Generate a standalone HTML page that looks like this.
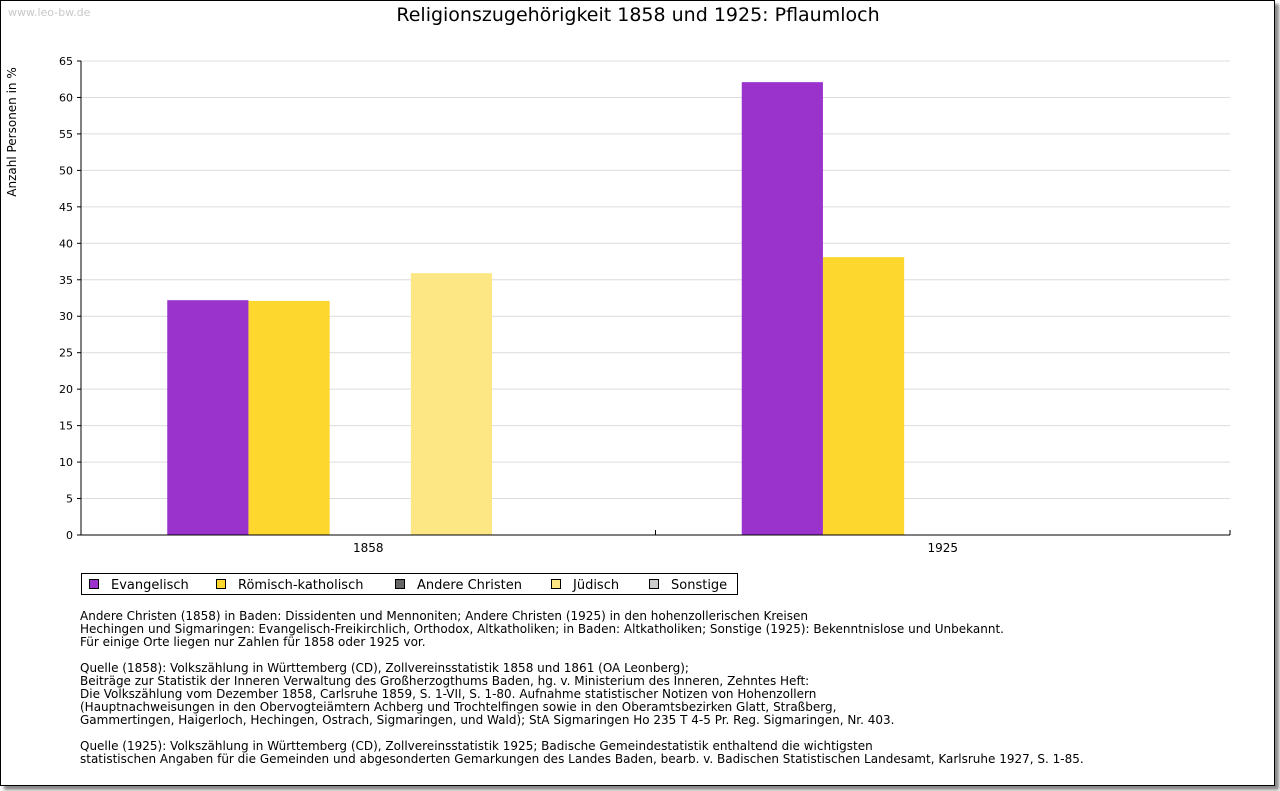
<!DOCTYPE html>
<html><head><meta charset="utf-8"><style>
body{margin:0;background:#fff;width:1280px;height:791px;overflow:hidden;font-family:"DejaVu Sans","Liberation Sans",sans-serif;}
#frame{position:absolute;left:0;top:0;width:1273px;height:784px;border:1px solid #000;box-shadow:4px 4px 3px #888;background:#fff;}
.note{position:absolute;left:80px;font-size:12px;line-height:13px;color:#000;white-space:nowrap;letter-spacing:0px;}
</style></head><body>
<div id="frame"></div>
<svg width="1280" height="791" style="position:absolute;left:0;top:0" font-family="DejaVu Sans, Liberation Sans, sans-serif">
<text x="8" y="16" font-size="11" fill="#c8c8c8">www.leo-bw.de</text>
<text x="638" y="21" font-size="19" text-anchor="middle">Religionszugehörigkeit 1858 und 1925: Pflaumloch</text>
<text transform="translate(16,132) rotate(-90)" font-size="12" text-anchor="middle">Anzahl Personen in %</text>
<g id="grid"></g><g id="bars"></g><g id="axes"></g>
<g id="legend"></g>
</svg>
<div class="note" style="top:610px">Andere Christen (1858) in Baden: Dissidenten und Mennoniten; Andere Christen (1925) in den hohenzollerischen Kreisen<br>Hechingen und Sigmaringen: Evangelisch-Freikirchlich, Orthodox, Altkatholiken; in Baden: Altkatholiken; Sonstige (1925): Bekenntnislose und Unbekannt.<br>Für einige Orte liegen nur Zahlen für 1858 oder 1925 vor.</div>
<div class="note" style="top:662px">Quelle (1858): Volkszählung in Württemberg (CD), Zollvereinsstatistik 1858 und 1861 (OA Leonberg);<br>Beiträge zur Statistik der Inneren Verwaltung des Großherzogthums Baden, hg. v. Ministerium des Inneren, Zehntes Heft:<br>Die Volkszählung vom Dezember 1858, Carlsruhe 1859, S. 1-VII, S. 1-80. Aufnahme statistischer Notizen von Hohenzollern<br>(Hauptnachweisungen in den Obervogteiämtern Achberg und Trochtelfingen sowie in den Oberamtsbezirken Glatt, Straßberg,<br>Gammertingen, Haigerloch, Hechingen, Ostrach, Sigmaringen, und Wald); StA Sigmaringen Ho 235 T 4-5 Pr. Reg. Sigmaringen, Nr. 403.</div>
<div class="note" style="top:740px">Quelle (1925): Volkszählung in Württemberg (CD), Zollvereinsstatistik 1925; Badische Gemeindestatistik enthaltend die wichtigsten<br>statistischen Angaben für die Gemeinden und abgesonderten Gemarkungen des Landes Baden, bearb. v. Badischen Statistischen Landesamt, Karlsruhe 1927, S. 1-85.</div>
<script>
const categories=["1858","1925"];
const seriesNames=["Evangelisch","Römisch-katholisch","Andere Christen","Jüdisch","Sonstige"];
const colors=["#9933cc","#fdd62e","#666666","#fde784","#cccccc"];
const evangelisch=[32.2,62.1];
const katholisch=[32.1,38.1];
const andere=[0,0];
const juedisch=[35.9,0];
const sonstige=[0,0];
const yTicks=[0,5,10,15,20,25,30,35,40,45,50,55,60,65];
const series=[evangelisch,katholisch,andere,juedisch,sonstige];
const NS="http://www.w3.org/2000/svg";
const X0=81,X1=1230,Y0=535,Y1=61,YMAX=65;
const y=v=>Y0-(v/YMAX)*(Y0-Y1);
const gw=(X1-X0)/categories.length, bw=81.2;
const gx=i=>X0+gw*i+gw/2;
function mk(t,a,p){const e=document.createElementNS(NS,t);for(const k in a)e.setAttribute(k,a[k]);p.appendChild(e);return e;}
const grid=document.getElementById('grid'),bars=document.getElementById('bars'),axes=document.getElementById('axes'),leg=document.getElementById('legend');
yTicks.forEach(t=>{
 if(t>0){const l=mk('line',{x1:X0,x2:X1,y1:y(t),y2:y(t),stroke:'#dcdcdc'},grid);
 
 }
 const tx=mk('text',{x:X0-8,y:y(t)+4,'font-size':11,'text-anchor':'end'},axes);tx.textContent=t;
 
 
 mk('line',{x1:X0-4,x2:X0,y1:y(t),y2:y(t),stroke:'#000'},axes);
});
categories.forEach((c,i)=>{
 series.forEach((s,j)=>{
  if(s[i]<=0)return;
  const x=gx(i)+2+(j-2.5)*bw;
  const r=mk('rect',{x:x,y:y(s[i]),width:bw,height:Y0-y(s[i]),fill:colors[j]},bars);
  
  
 });
 const tx=mk('text',{x:gx(i),y:Y0+17,'font-size':12,'text-anchor':'middle'},axes);tx.textContent=c;
 
 
 mk('line',{x1:X0+gw*(i+1),x2:X0+gw*(i+1),y1:Y0,y2:Y0-5,stroke:'#000'},axes);
});
mk('line',{x1:X0,x2:X0,y1:Y1,y2:Y0,stroke:'#000'},axes);
mk('line',{x1:X0,x2:X1,y1:Y0,y2:Y0,stroke:'#000'},axes);
mk('rect',{x:81.5,y:573.5,width:656,height:21,fill:'#fff',stroke:'#000'},leg);
const lx=[89,216,395,551,649];
seriesNames.forEach((n,j)=>{
 const r=mk('rect',{x:lx[j]+0.5,y:579.5,width:9,height:9,fill:colors[j],stroke:'#000'},leg);
 
 
 const t=mk('text',{x:lx[j]+22,y:589,'font-size':13},leg);t.textContent=n;
 
 
});
</script>
</body></html>
